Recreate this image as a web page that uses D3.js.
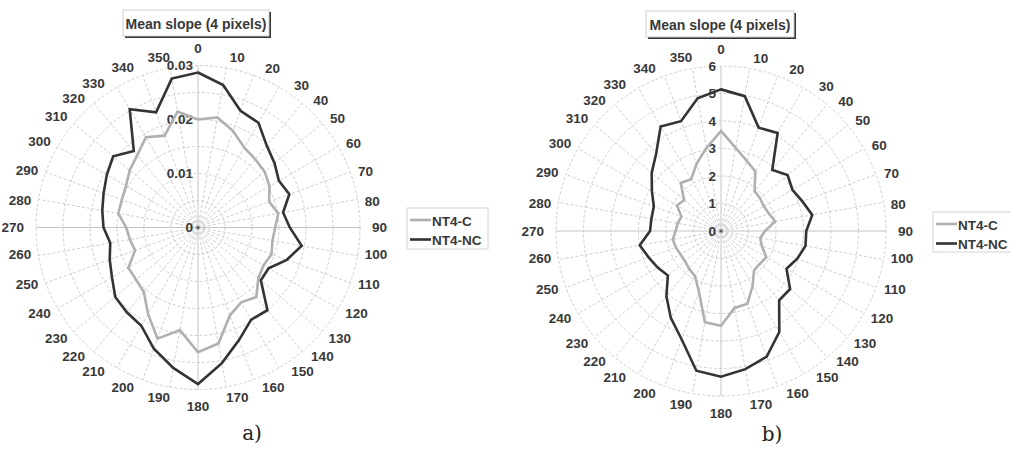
<!DOCTYPE html>
<html><head><meta charset="utf-8">
<script src="https://cdn.jsdelivr.net/npm/d3@7"></script>
<style>
body{margin:0;background:#fff;}
svg text{font-family:Arial,"Liberation Sans",Helvetica,sans-serif;}
svg text.caption{font-family:"DejaVu Serif","Liberation Serif",serif;}
</style>
</head><body>
<svg id="chart" width="1011" height="449"></svg>
<script>
// ---------- data ----------
const angles = [0,10,20,30,40,50,60,70,80,90,100,110,120,130,140,150,160,170,
                180,190,200,210,220,230,240,250,260,270,280,290,300,310,320,330,340,350];
const seriesNames = ["NT4-C", "NT4-NC"];
const chartTitle = "Mean slope (4 pixels)";

// panel a) values
const aC  = [0.0200,0.0207,0.0190,0.0171,0.0165,0.0161,0.0153,0.0140,0.0151,0.0143,0.0140,0.0145,
             0.0140,0.0146,0.0168,0.0160,0.0173,0.0218,0.0231,0.0193,0.0219,0.0185,0.0156,0.0150,
             0.0149,0.0124,0.0128,0.0133,0.0150,0.0150,0.0154,0.0165,0.0175,0.0193,0.0181,0.0218];
const aNC = [0.0287,0.0268,0.0230,0.0224,0.0198,0.0185,0.0173,0.0180,0.0160,0.0170,0.0195,0.0175,
             0.0151,0.0152,0.0200,0.0197,0.0222,0.0255,0.0290,0.0264,0.0239,0.0210,0.0205,0.0200,
             0.0184,0.0174,0.0165,0.0175,0.0180,0.0186,0.0195,0.0205,0.0185,0.0253,0.0227,0.0280];
const aRings = [0.005,0.01,0.015,0.02,0.025,0.03];
const aTicks = [0,0.01,0.02,0.03];
const aTickLabels = ["0","0.01","0.02","0.03"];

// panel b) values
const bC  = [3.64,3.07,2.72,2.50,1.90,1.85,1.80,1.85,2.00,1.60,1.45,1.58,1.90,1.85,1.87,2.30,2.81,2.84,
             3.45,3.37,2.35,1.89,1.80,1.71,1.70,1.75,1.78,1.65,1.60,1.53,1.85,1.75,2.28,2.17,2.60,3.06];
const bNC = [5.15,4.98,4.00,4.12,2.90,3.16,3.00,3.15,3.37,3.10,3.12,2.95,2.75,3.28,3.29,4.24,4.86,5.10,
             5.30,5.16,4.19,3.65,3.09,2.52,2.66,2.80,3.00,2.58,2.57,2.60,2.90,3.29,3.67,4.39,4.25,4.90];
const bRings = [1,2,3,4,5,6];
const bTicks = [0,1,2,3,4,5,6];
const bTickLabels = ["0","1","2","3","4","5","6"];

// ---------- drawing ----------
const svg = d3.select("#chart");
const TXT = "#383838";
const colors = ["#b0b0b0", "#333333"];
const deg = Math.PI / 180;

function panel(cfg) {
  const g = svg.append("g");
  const r = d3.scaleLinear().domain([0, cfg.max]).range([0, cfg.R]);
  const ang = d3.scaleLinear().domain([0, 360]).range([0, 2 * Math.PI]);
  const c = g.append("g").attr("transform", `translate(${cfg.cx},${cfg.cy})`);

  // rings
  c.selectAll("circle.ring").data(cfg.rings).join("circle")
    .attr("r", d => r(d)).attr("fill", "none")
    .attr("stroke", "#cfcfcf").attr("stroke-width", 1).attr("stroke-dasharray", "3,2");

  // spokes
  c.selectAll("line.spoke").data(angles).join("line")
    .attr("x1", 0).attr("y1", 0)
    .attr("x2", d => r(cfg.max) * Math.sin(ang(d)))
    .attr("y2", d => -r(cfg.max) * Math.cos(ang(d)))
    .attr("stroke", d => d % 90 === 0 ? "#c4c4c4" : "#cfcfcf")
    .attr("stroke-width", 1)
    .attr("stroke-dasharray", d => d % 90 === 0 ? null : "3,2");

  // value labels
  c.selectAll("text.tick").data(cfg.ticks).join("text")
    .attr("x", -5).attr("y", d => -r(d))
    .attr("text-anchor", "end").attr("dominant-baseline", "central")
    .attr("font-size", "13.5px").attr("font-weight", "bold").attr("fill", TXT)
    .text((d, i) => cfg.tickLabels[i]);

  // angle labels
  c.selectAll("text.ang").data(angles).join("text")
    .each(function(d) {
      const m = d % 180;
      const dist = Math.min(m, 180 - m);
      let sign = 0;
      if (d > 0 && d < 90) sign = 1; else if (d > 90 && d < 180) sign = -1;
      else if (d > 180 && d < 270) sign = 1; else if (d > 270) sign = -1;
      const delta = dist === 0 ? 0 : (dist <= 30 ? 6 * Math.sin(dist * 3 * deg) : Math.max(1.5, 6 - (dist - 30) * 0.2));
      const t = (d + sign * delta) * deg;
      const w = String(d).length * 7.5;
      const rc = cfg.R + 6 + (w / 2) * Math.abs(Math.sin(d * deg)) + 5 * Math.abs(Math.cos(d * deg))
                 + (d % 90 === 0 ? 6 : 0);
      d3.select(this)
        .attr("x", rc * Math.sin(t)).attr("y", -rc * Math.cos(t))
        .attr("text-anchor", "middle").attr("dominant-baseline", "central")
        .attr("font-size", "13.5px").attr("font-weight", "bold").attr("fill", TXT)
        .text(d);
    });

  // series
  const line = d3.lineRadial().angle((d, i) => ang(angles[i])).radius(d => r(d))
    .curve(d3.curveLinearClosed);
  cfg.series.forEach((s, k) => {
    c.append("path").datum(s).attr("d", line).attr("fill", "none")
      .attr("stroke", colors[k]).attr("stroke-width", 2.6).attr("stroke-linejoin", "miter");
  });
  c.append("circle").attr("r", 1.6).attr("fill", "#555");

  // title box
  const tb = cfg.titleBox;
  g.append("rect").attr("x", tb.x + 2).attr("y", tb.y + 2).attr("width", tb.w).attr("height", tb.h).attr("fill", "#333");
  g.append("rect").attr("x", tb.x).attr("y", tb.y).attr("width", tb.w).attr("height", tb.h)
    .attr("fill", "#fff").attr("stroke", "#cfcfcf").attr("stroke-width", 1);
  g.append("text").attr("x", tb.x + tb.w / 2).attr("y", tb.y + tb.h / 2 + 1)
    .attr("text-anchor", "middle").attr("dominant-baseline", "central")
    .attr("font-size", "14px").attr("font-weight", "bold").attr("fill", TXT).text(chartTitle);

  // legend
  const lg = cfg.legend;
  g.append("rect").attr("x", lg.x).attr("y", lg.y).attr("width", lg.w).attr("height", lg.h)
    .attr("fill", "#fff").attr("stroke", "#d4d4d4").attr("stroke-width", 1);
  seriesNames.forEach((n, k) => {
    const yy = lg.y + 12 + k * 19.5;
    g.append("line").attr("x1", lg.x + 3).attr("x2", lg.x + 24).attr("y1", yy).attr("y2", yy)
      .attr("stroke", colors[k]).attr("stroke-width", 2.6);
    g.append("text").attr("x", lg.x + 25).attr("y", yy + 1).attr("dominant-baseline", "central")
      .attr("font-size", "13.5px").attr("font-weight", "bold").attr("fill", TXT).text(n);
  });

  // caption
  g.append("text").attr("class", "caption").attr("x", cfg.caption.x).attr("y", cfg.caption.y)
    .attr("text-anchor", "middle").attr("dominant-baseline", "central")
    .attr("font-size", "20px").attr("fill", "#222").text(cfg.caption.text);
}

panel({
  cx: 198, cy: 227.5, R: 162, max: 0.03, rings: aRings, ticks: aTicks, tickLabels: aTickLabels,
  series: [aC, aNC],
  titleBox: {x: 123, y: 10, w: 146, h: 26},
  legend: {x: 407, y: 208, w: 81, h: 41},
  caption: {text: "a)", x: 252, y: 433}
});
panel({
  cx: 721, cy: 231, R: 165, max: 6, rings: bRings, ticks: bTicks, tickLabels: bTickLabels,
  series: [bC, bNC],
  titleBox: {x: 646, y: 11, w: 148, h: 26},
  legend: {x: 933, y: 212, w: 90, h: 40},
  caption: {text: "b)", x: 772, y: 434}
});
</script>
</body></html>
